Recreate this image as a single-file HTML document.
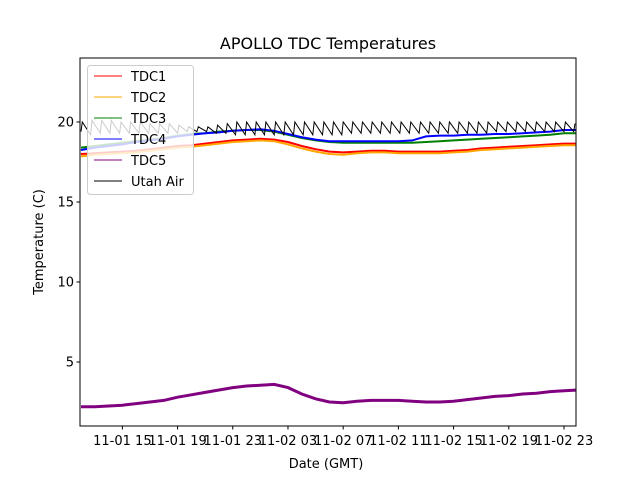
<!DOCTYPE html>
<html><head><meta charset="utf-8"><style>
html,body{margin:0;padding:0;background:#fff}
svg{display:block;font-family:"DejaVu Sans","Liberation Sans",sans-serif}
</style></head><body>
<svg id="chart" width="640" height="480" viewBox="0 0 640 480" xmlns="http://www.w3.org/2000/svg">
<rect width="640" height="480" fill="#fff"/>
<text x="328" y="49" text-anchor="middle" font-size="16">APOLLO TDC Temperatures</text>
<g id="plot"></g>
<g id="axes"></g>
<text x="326" y="468" text-anchor="middle" font-size="13">Date (GMT)</text>
<text transform="translate(43,242) rotate(-90)" text-anchor="middle" font-size="13">Temperature (C)</text>
<g id="legend"></g>
</svg>
<script>
const hours = [12,13,14,15,16,17,18,19,20,21,22,23,24,25,26,27,28,29,30,31,32,33,34,35,36,37,38,39,40,41,42,43,44,45,46,47,48];
const tdc1 = [18.0,18.05,18.1,18.15,18.2,18.3,18.4,18.5,18.55,18.65,18.75,18.85,18.9,18.95,18.9,18.75,18.5,18.3,18.15,18.1,18.15,18.2,18.2,18.15,18.15,18.15,18.15,18.2,18.25,18.35,18.4,18.45,18.5,18.55,18.6,18.65,18.65];
const tdc2 = [17.85,17.95,18.0,18.05,18.1,18.2,18.3,18.4,18.45,18.55,18.65,18.75,18.8,18.85,18.8,18.6,18.35,18.15,18.0,17.95,18.05,18.1,18.1,18.05,18.05,18.05,18.05,18.1,18.15,18.25,18.3,18.35,18.4,18.45,18.5,18.55,18.55];
const tdc3 = [18.4,18.5,18.6,18.7,18.8,18.9,19.0,19.15,19.25,19.3,19.4,19.45,19.5,19.5,19.4,19.2,19.0,18.85,18.75,18.7,18.7,18.7,18.7,18.7,18.7,18.75,18.8,18.85,18.9,18.95,19.0,19.05,19.1,19.15,19.2,19.3,19.3];
const tdc4 = [18.25,18.4,18.5,18.6,18.75,18.85,18.95,19.1,19.2,19.3,19.35,19.45,19.5,19.55,19.45,19.25,19.05,18.9,18.8,18.8,18.8,18.8,18.8,18.8,18.85,19.1,19.15,19.15,19.2,19.2,19.25,19.25,19.3,19.35,19.4,19.5,19.5];
const tdc5 = [2.2,2.2,2.25,2.3,2.4,2.5,2.6,2.8,2.95,3.1,3.25,3.4,3.5,3.55,3.6,3.4,3.0,2.7,2.5,2.45,2.55,2.6,2.6,2.6,2.55,2.5,2.5,2.55,2.65,2.75,2.85,2.9,3.0,3.05,3.15,3.2,3.25];
const airHours = [12,12.1,12.7,12.8,13.4,13.5,14.1,14.2,14.8,14.9,15.5,15.6,16.2,16.3,16.9,17,17.6,17.7,18.3,18.4,19,19.1,19.7,19.8,20.4,20.5,21.1,21.2,21.8,21.9,22.5,22.6,23.2,23.3,23.9,24,24.6,24.7,25.3,25.4,26,26.1,26.7,26.8,27.4,27.5,28.1,28.2,28.8,28.9,29.5,29.6,30.2,30.3,30.9,31,31.6,31.7,32.3,32.4,33,33.1,33.7,33.8,34.4,34.5,35.1,35.2,35.8,35.9,36.5,36.6,37.2,37.3,37.9,38,38.6,38.7,39.3,39.4,40,40.1,40.7,40.8,41.4,41.5,42.1,42.2,42.8,42.9,43.5,43.6,44.2,44.3,44.9,45,45.6,45.7,46.3,46.4,47,47.1,47.7,47.8];
const utahAir = [19.4,20.0,19.2,20.1,19.3,20.1,19.3,20.1,19.3,20.0,19.3,20.0,19.3,20.0,19.3,19.9,19.3,19.9,19.3,19.9,19.3,19.8,19.4,19.7,19.4,19.7,19.4,19.7,19.3,19.8,19.3,19.9,19.2,20.0,19.2,20.0,19.2,20.0,19.2,20.0,19.2,20.0,19.2,20.0,19.2,20.0,19.2,20.0,19.2,20.0,19.2,20.0,19.2,20.0,19.2,20.0,19.3,20.0,19.3,20.0,19.3,20.0,19.3,20.0,19.3,20.0,19.3,20.0,19.3,20.0,19.3,20.0,19.3,20.0,19.3,20.0,19.3,20.0,19.3,20.0,19.3,20.0,19.3,20.0,19.3,20.0,19.4,20.0,19.4,20.0,19.4,20.0,19.4,20.0,19.4,20.0,19.4,20.0,19.4,20.0,19.4,20.0,19.4,19.9];
const yTicks = [5,10,15,20];
const xTicks = [15,19,23,27,31,35,39,43,47];
const xTickLabels = ["11-01 15","11-01 19","11-01 23","11-02 03","11-02 07","11-02 11","11-02 15","11-02 19","11-02 23"];
const seriesNames = ["TDC1","TDC2","TDC3","TDC4","TDC5","Utah Air"];
const seriesColors = ["#ff0000","#ffa500","#008000","#0000ff","#800080","#000000"];

const L=80,R=576,T=58,B=426, X0=11.93, X1=47.87, Y0=1, Y1=24;
const sx=h=>L+(h-X0)/(X1-X0)*(R-L);
const sy=v=>B-(v-Y0)/(Y1-Y0)*(B-T);
const NS="http://www.w3.org/2000/svg";
function mk(tag,attrs,parent){const e=document.createElementNS(NS,tag);for(const k in attrs)e.setAttribute(k,attrs[k]);parent.appendChild(e);return e;}
const plot=document.getElementById('plot');
const clip=mk('clipPath',{id:'cp'},plot);mk('rect',{x:L,y:T,width:R-L,height:B-T},clip);
const widths=[2,2,2,2,3,1];
const order=[[hours,tdc1,0],[hours,tdc2,1],[hours,tdc3,2],[hours,tdc4,3],[hours,tdc5,4],[airHours,utahAir,5]];
order.forEach(([xs,ys,i])=>{
  const d=xs.map((h,j)=>(j?'L':'M')+sx(h).toFixed(1)+','+sy(ys[j]).toFixed(1)).join('');
  const p=mk('path',{d:d,fill:'none',stroke:seriesColors[i],'stroke-width':widths[i],'clip-path':'url(#cp)'},plot);
  
  
});
const axes=document.getElementById('axes');
mk('rect',{x:L,y:T,width:R-L,height:B-T,fill:'none',stroke:'#000','stroke-width':1},axes);
yTicks.forEach(v=>{
  const y=sy(v);
  mk('line',{x1:L-3.5,x2:L,y1:y,y2:y,stroke:'#000'},axes);
  const t=mk('text',{x:L-6,y:y+4.5,'text-anchor':'end','font-size':13},axes);
  t.textContent=v;
  
  
});
xTicks.forEach((h,i)=>{
  const x=sx(h);
  mk('line',{x1:x,x2:x,y1:B,y2:B+3.5,stroke:'#000'},axes);
  const t=mk('text',{x:x,y:B+19,'text-anchor':'middle','font-size':13},axes);
  t.textContent=xTickLabels[i];
  
  
});
const lg=document.getElementById('legend');
mk('rect',{x:87.5,y:65.5,width:106,height:129,rx:3,fill:'#fff','fill-opacity':0.8,stroke:'#ccc'},lg);
seriesNames.forEach((n,i)=>{
  const y=76+i*21;
  mk('line',{x1:94,x2:122,y1:y,y2:y,stroke:seriesColors[i],'stroke-width':1},lg);
  const t=mk('text',{x:131,y:y+5,'font-size':13},lg);
  t.textContent=n;
  
  
});
</script>
</body></html>
